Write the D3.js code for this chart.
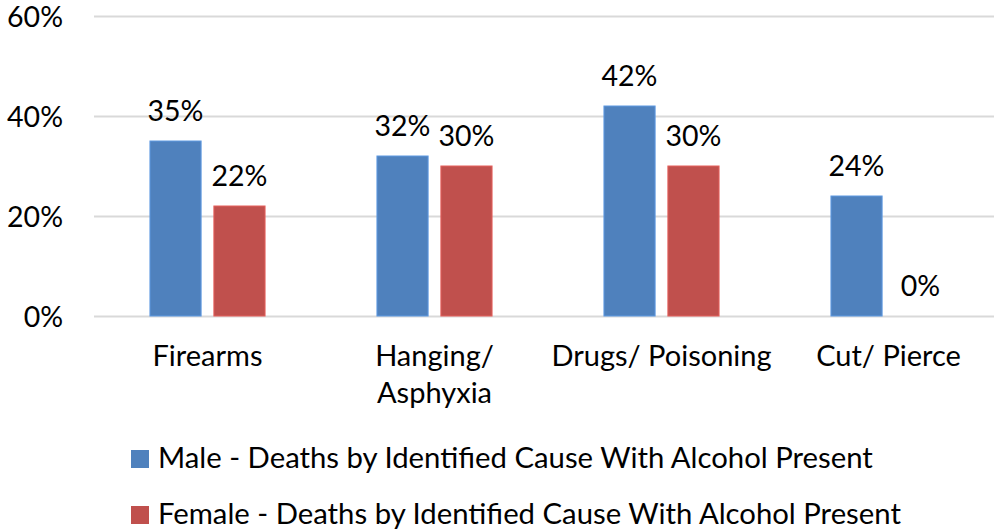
<!DOCTYPE html>
<html>
<head>
<meta charset="utf-8">
<script src="https://cdn.jsdelivr.net/npm/d3@7"></script>
<style>
  html, body { margin: 0; padding: 0; background: #ffffff; }
  svg { display: block; }
  text { font-family: Lato, "Open Sans", sans-serif; fill: #000; }
</style>
</head>
<body>
<svg id="chart" width="994" height="531"></svg>
<script>
// Share of deaths by cause where alcohol was present, by sex
const categories = ["Firearms", "Hanging/ Asphyxia", "Drugs/ Poisoning", "Cut/ Pierce"];
const categoryLines = [["Firearms"], ["Hanging/", "Asphyxia"], ["Drugs/ Poisoning"], ["Cut/ Pierce"]];
const seriesNames = [
  "Male - Deaths by Identified Cause With Alcohol Present",
  "Female - Deaths by Identified Cause With Alcohol Present"
];
const maleValues = [35, 32, 42, 24];
const femaleValues = [22, 30, 30, 0];
const seriesColors = ["#4F81BD", "#C0504D"];
const yTicks = [0, 20, 40, 60];

const seriesValues = [maleValues, femaleValues];
const svg = d3.select("#chart");

const plot = { left: 94, right: 1002, top: 16, bottom: 316 };

const x = d3.scaleBand()
  .domain(categories)
  .range([plot.left, plot.right])
  .paddingInner(0)
  .paddingOuter(0);

const xSeries = d3.scaleBand()
  .domain(seriesNames)
  .range([0, x.bandwidth()])
  .paddingInner(0.2)
  .paddingOuter(0.875);

const y = d3.scaleLinear()
  .domain([0, 60])
  .range([plot.bottom, plot.top]);

// Horizontal gridlines and percentage labels
const yAxis = d3.axisLeft(y)
  .tickValues(yTicks)
  .tickSize(-(plot.right - plot.left))
  .tickPadding(31)
  .tickFormat(d => d + "%");

const yG = svg.append("g")
  .attr("transform", `translate(${plot.left},0)`)
  .call(yAxis);
yG.select(".domain").remove();
yG.selectAll(".tick line").attr("stroke", "#d9d9d9").attr("stroke-width", 2);
yG.selectAll(".tick text")
  .attr("font-size", 28.5)
  .attr("font-family", "Lato, sans-serif")
  .attr("fill", "#000")
  .attr("dy", "0.36em");

// Bars
const groups = svg.append("g")
  .selectAll("g")
  .data(seriesNames)
  .join("g")
  .attr("fill", (d, i) => seriesColors[i]);

groups.each(function(name, si) {
  const vals = seriesValues[si];
  d3.select(this).selectAll("rect")
    .data(categories.map((c, ci) => ({ c, v: vals[ci] })))
    .join("rect")
    .attr("x", d => x(d.c) + xSeries(name))
    .attr("width", xSeries.bandwidth())
    .attr("y", d => y(d.v))
    .attr("height", d => y(0) - y(d.v))
    .attr("stroke", d3.color(seriesColors[si]).brighter(0.5))
    .attr("stroke-width", d => d.v > 0 ? 1 : 0);

  d3.select(this).selectAll("text")
    .data(categories.map((c, ci) => ({ c, v: vals[ci] })))
    .join("text")
    .attr("x", d => x(d.c) + xSeries(name) + xSeries.bandwidth() / 2)
    .attr("y", d => y(d.v) - 20)
    .attr("text-anchor", "middle")
    .attr("font-size", 28.5)
    .attr("fill", "#000")
    .text(d => d.v + "%");
});

// Category axis labels
const xAxis = d3.axisBottom(x).tickSize(0).tickFormat("");
const xG = svg.append("g")
  .attr("transform", `translate(0,${plot.bottom})`)
  .call(xAxis);
xG.select(".domain").remove();
xG.selectAll(".tick text").remove();
xG.selectAll(".tick").each(function(c) {
  const lines = categoryLines[categories.indexOf(c)];
  const t = d3.select(this).append("text")
    .attr("text-anchor", "middle")
    .attr("font-size", 29)
    .attr("fill", "#000")
    .attr("y", 50);
  lines.forEach((ln, i) => {
    t.append("tspan").attr("x", 0).attr("dy", i === 0 ? 0 : 36.5).text(ln);
  });
});

// Legend
const legend = svg.append("g")
  .selectAll("g")
  .data(seriesNames)
  .join("g")
  .attr("transform", (d, i) => `translate(131,${450 + i * 56})`);
legend.append("rect")
  .attr("width", 18)
  .attr("height", 18)
  .attr("fill", (d, i) => seriesColors[i]);
legend.append("text")
  .attr("x", 27)
  .attr("y", 17.5)
  .attr("font-size", 29.3)
  .attr("fill", "#000")
  .text(d => d);
</script>
</body>
</html>
